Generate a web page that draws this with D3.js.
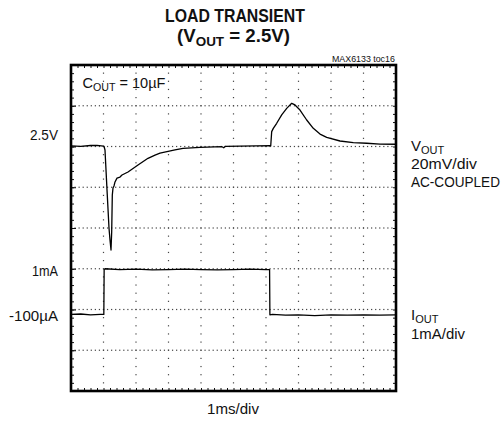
<!DOCTYPE html>
<html><head><meta charset="utf-8">
<script src="https://cdn.jsdelivr.net/npm/d3@7"></script>
<style>body{margin:0;background:#fff}svg{display:block}</style>
</head><body>
<script>
// ---- data (time in ms, 1 ms/div; VOUT in mV about 2.5V, 20 mV/div; IOUT in mA, 1 mA/div)
const timeV = [0, 0.3, 0.6, 0.8, 1.0, 1.015, 1.046, 1.108, 1.169, 1.2, 1.231, 1.252, 1.271, 1.292, 1.323, 1.354, 1.415, 1.508, 1.569, 1.754, 2.062, 2.369, 2.585, 2.738, 3.2, 3.446, 3.969, 4.646, 4.7, 4.75, 5.2, 5.7, 6.123, 6.145, 6.175, 6.225, 6.329, 6.483, 6.637, 6.791, 6.892, 7.046, 7.252, 7.455, 7.662, 7.868, 8.277, 8.686, 9.098, 9.508, 10];
const vout  = [0.3, 0.1, 0.5, 0.6, 0.2, 0.1, -1.7, -21.3, -40, -45.9, -50.8, -42, -23.8, -20.4, -19.4, -17.4, -15.5, -15, -14, -12.5, -9.1, -5.8, -4.2, -3.3, -1.7, -0.9, -0.4, -0.1, -0.6, 0.1, 0.2, 0.3, 0.4, 0.25, 7.3, 8.9, 11.4, 15.5, 18.7, 21.2, 20.4, 17.9, 13, 8.9, 6.1, 4.5, 2.7, 1.9, 1.6, 1.2, 1.1];
const timeI = [0, 0.3, 0.6, 0.9, 1.01, 1.02, 1.05, 1.5, 2.0, 2.5, 3.0, 3.5, 4.0, 4.5, 5.0, 5.5, 6.0, 6.11, 6.12, 6.2, 6.6, 7.0, 7.5, 8.0, 8.5, 9.0, 9.5, 10];
const iout  = [-0.12, -0.11, -0.13, -0.12, -0.12, 0.98, 1.0, 0.98, 0.99, 0.97, 0.98, 0.99, 0.98, 0.97, 0.98, 0.99, 0.98, 0.98, -0.13, -0.12, -0.14, -0.13, -0.15, -0.13, -0.14, -0.13, -0.14, -0.13];

const xDomain = [0, 10];          // 10 divisions
const vDomain = [-120, 40];       // 8 divisions of 20 mV
const iDomain = [-2, 6];          // 8 divisions of 1 mA
const leftLabels  = ["2.5V", "1mA", "-100µA"];
const leftLabelAt = [["v", 0], ["i", 1], ["i", -0.1]];
const titleLines  = ["LOAD TRANSIENT", "(V|OUT| = 2.5V)"];
const codeLabel   = "MAX6133 toc16";
const capLabel    = "C|OUT| = 10µF";
const voutLabels  = ["V|OUT", "20mV/div", "AC-COUPLED"];
const ioutLabels  = ["I|OUT", "1mA/div"];
const xAxisLabel  = "1ms/div";

// ---- layout
const W = 502, H = 426;
const L = 71, R = 396, T = 65, B = 391;
const FONT = "'Liberation Sans', Arial, Helvetica, sans-serif";

const svg = d3.select("body").append("svg").attr("width", W).attr("height", H)
  .style("background", "#fff");

const x = d3.scaleLinear().domain(xDomain).range([L, R]);
const yV = d3.scaleLinear().domain(vDomain).range([B, T]);
const yI = d3.scaleLinear().domain(iDomain).range([B, T]);

// ---- dotted graticule
const gGrid = svg.append("g").attr("fill", "#444");
const hLines = d3.range(vDomain[0] + 20, vDomain[1], 20);
const hDots = d3.range(xDomain[0], xDomain[1] + 1e-9, 0.125);
hLines.forEach(v => {
  gGrid.selectAll(null).data(hDots).enter().append("rect")
    .attr("x", d => x(d) - 0.6).attr("y", yV(v) - 0.6).attr("width", 1.2).attr("height", 1.2);
});
const vLines = d3.range(xDomain[0] + 1, xDomain[1], 1);
const vDots = d3.range(vDomain[0], vDomain[1] + 1e-9, 4);
vLines.forEach(t => {
  gGrid.selectAll(null).data(vDots).enter().append("rect")
    .attr("x", x(t) - 0.6).attr("y", d => yV(d) - 0.6).attr("width", 1.2).attr("height", 1.2);
});

// ---- frame minor ticks via axes
const xMinor = d3.range(xDomain[0], xDomain[1] + 1e-9, 0.2);
const vMinor = d3.range(vDomain[0], vDomain[1] + 1e-9, 4);
function tickAxis(axis, tr) {
  const g = svg.append("g").attr("transform", tr).call(axis);
  g.select(".domain").remove();
  g.selectAll("text").remove();
  g.selectAll("line").attr("stroke", "#111").attr("stroke-width", 1);
}
tickAxis(d3.axisBottom(x).tickValues(xMinor).tickSize(-3).tickFormat(""), `translate(0,${B})`);
tickAxis(d3.axisTop(x).tickValues(xMinor).tickSize(-3).tickFormat(""), `translate(0,${T})`);
tickAxis(d3.axisLeft(yV).tickValues(vMinor).tickSize(-3).tickFormat(""), `translate(${L},0)`);
tickAxis(d3.axisRight(yV).tickValues(vMinor).tickSize(-3).tickFormat(""), `translate(${R},0)`);
tickAxis(d3.axisLeft(yV).tickValues(hLines).tickSize(-5).tickFormat(""), `translate(${L},0)`);

// ---- frame
svg.append("rect").attr("x", L).attr("y", T).attr("width", R - L).attr("height", B - T)
  .attr("fill", "none").attr("stroke", "#000").attr("stroke-width", 2.6);

// ---- traces
const lineV = d3.line().x((d, i) => x(timeV[i])).y(d => yV(d));
const lineI = d3.line().x((d, i) => x(timeI[i])).y(d => yI(d));
svg.append("path").attr("d", lineV(vout)).attr("fill", "none")
  .attr("stroke", "#000").attr("stroke-width", 1.3).attr("stroke-linejoin", "round");
svg.append("path").attr("d", lineI(iout)).attr("fill", "none")
  .attr("stroke", "#000").attr("stroke-width", 1.3).attr("stroke-linejoin", "round");

// ---- text helper: "A|sub|B" puts sub as subscript; fit to target width
function label(str, px, py, opts) {
  const o = Object.assign({ size: 14, weight: "normal", anchor: "start", width: null, subSize: null, subDy: 3 }, opts);
  const g = svg.append("g").attr("transform", `translate(${px},${py})`);
  const t = g.append("text").attr("font-family", FONT).attr("font-size", o.size)
    .attr("font-weight", o.weight).attr("fill", "#111");
  const parts = str.split("|");
  parts.forEach((p, i) => {
    if (!p.length) return;
    const sub = i % 2 === 1;
    const ts = t.append("tspan").text(p);
    if (sub) ts.attr("font-size", o.subSize || o.size * 0.72).attr("dy", o.subDy);
    else if (i > 0) ts.attr("dy", -o.subDy);
  });
  const w = t.node().getComputedTextLength();
  const sx = o.width ? o.width / w : 1;
  let dx = 0;
  if (o.anchor === "middle") dx = -w / 2;
  if (o.anchor === "end") dx = -w;
  t.attr("transform", `scale(${sx},1) translate(${dx},0)`);
  return g;
}

// titles
label(titleLines[0], 235, 21.5, { size: 18.5, weight: "bold", anchor: "middle", width: 140 });
label(titleLines[1], 233.5, 42, { size: 18, weight: "bold", anchor: "middle", width: 113, subSize: 13, subDy: 3.5 });
label(codeLabel, 395, 61.5, { size: 9, anchor: "end", width: 63 });

// inside label
label(capLabel, 82.5, 88, { size: 15, width: 83, subSize: 11, subDy: 3 });

// left labels
const leftWidths = [28, 26, 49];
leftLabels.forEach((s, i) => {
  const [k, val] = leftLabelAt[i];
  const yy = (k === "v" ? yV(val) : yI(val));
  const off = [-7, 7.5, 7.5][i];
  label(s, 58, yy + off, { size: 15, anchor: "end", width: leftWidths[i] });
});

// right labels
const voutY = [151, 169, 187], voutW = [null, 66, 89];
voutLabels.forEach((s, i) => label(s, 411, voutY[i], { size: 15, width: voutW[i], subSize: 11, subDy: 2.5 }));
const ioutY = [320, 339], ioutW = [null, 54];
ioutLabels.forEach((s, i) => label(s, 411, ioutY[i], { size: 15, width: ioutW[i], subSize: 11, subDy: 2.5 }));

// x axis label
label(xAxisLabel, 233, 414, { size: 15, anchor: "middle", width: 52 });
</script>
</body></html>
